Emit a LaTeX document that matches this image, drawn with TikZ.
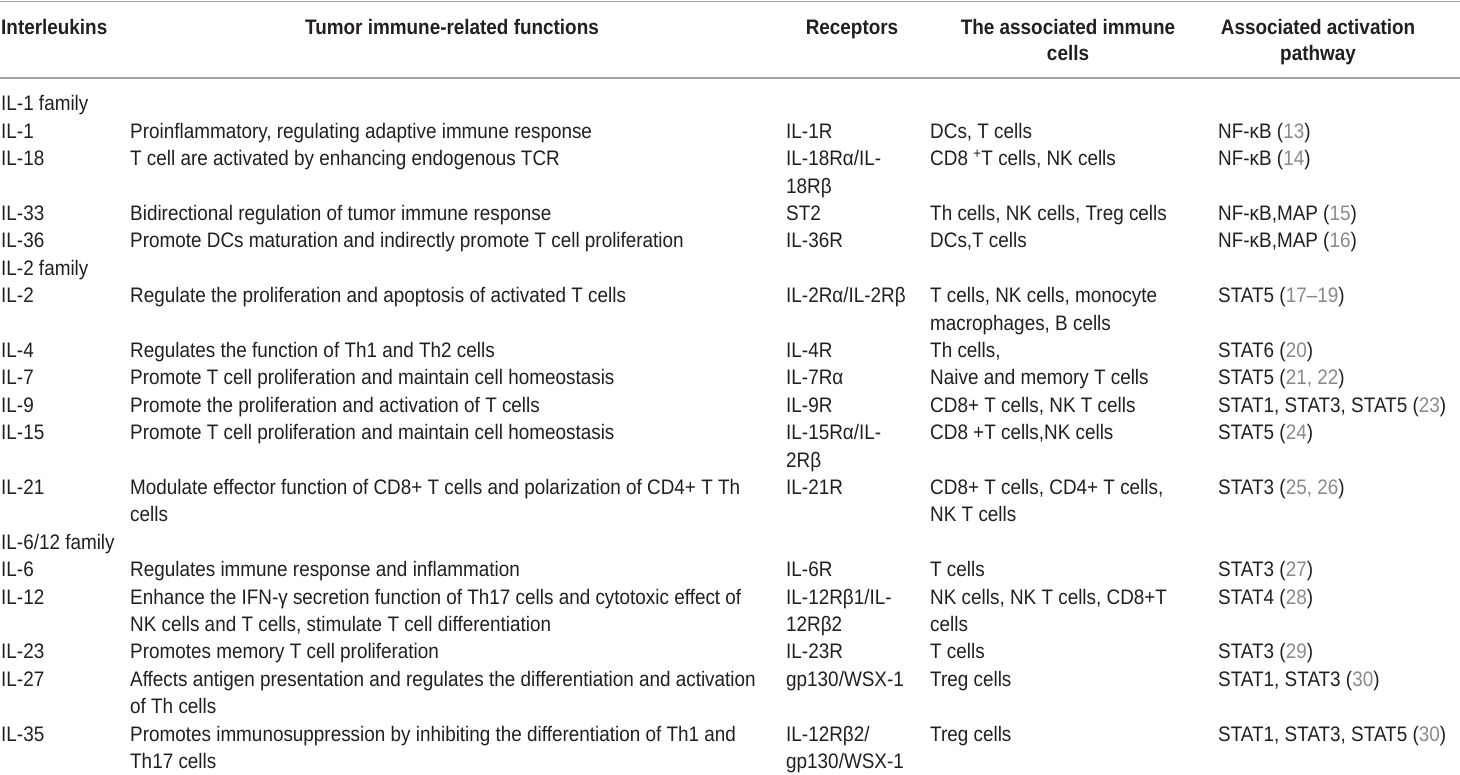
\documentclass[tikz,border=0pt]{standalone}
\usepackage{fontspec}
\setmainfont{Liberation Sans}[FakeStretch=0.9]
\definecolor{ink}{HTML}{231F20}
\definecolor{refgray}{HTML}{8A8A8A}
\definecolor{rulegray}{HTML}{A0A0A0}
\newcommand{\refno}[1]{(\textcolor{refgray}{#1})}
\newcommand{\twolines}[2]{\begin{tabular}[t]{@{}l@{}}#1\\#2\end{tabular}}
\newcommand{\headtwo}[2]{\begin{tabular}[t]{@{}c@{}}#1\\#2\end{tabular}}

\begin{document}
\begin{tikzpicture}[x=1bp,y=-27.4bp,
  cell/.style={anchor=base west,inner sep=0pt,text=ink,font=\fontsize{21bp}{27.4bp}\selectfont},
  head/.style={anchor=base,inner sep=0pt,text=ink,font=\fontsize{21bp}{26.5bp}\selectfont\bfseries},
  hrule/.style={draw=rulegray,line width=1.4bp}]
 \useasboundingbox (0,-4.05) rectangle (1460,24.23);
 % rules
 \draw[hrule] (0,-4.0) -- (1460,-4.0);
 \draw[hrule] (0,-1.2) -- (1460,-1.2);
 % header
 \node[head,anchor=base west] (hIL) at (1,-2.8) {Interleukins};
 \node[head] (hfun) at (452,-2.8) {Tumor immune-related functions};
 \node[head] (hrec) at (852,-2.8) {Receptors};
 \node[head] (hcell) at (1068,-2.8) {\headtwo{The associated immune}{cells}};
 \node[head] (hpath) at (1318,-2.8) {\headtwo{Associated activation}{pathway}};
 % IL-1 family
 \node[cell] (f1) at (1,0) {IL-1 family};
 \node[cell] (il1) at (1,1) {IL-1};
 \node[cell] (il1fun) at (130,1) {Proinflammatory, regulating adaptive immune response};
 \node[cell] (il1rec) at (786,1) {IL-1R};
 \node[cell] (il1cell) at (930,1) {DCs, T cells};
 \node[cell] (il1path) at (1218,1) {NF-κB \refno{13}};
 \node[cell] (il18) at (1,2) {IL-18};
 \node[cell] (il18fun) at (130,2) {T cell are activated by enhancing endogenous TCR};
 \node[cell] (il18rec) at (786,2) {\twolines{IL-18Rα/IL-}{18Rβ}};
 \node[cell] (il18cell) at (930,2) {CD8 \textsuperscript{+}T cells, NK cells};
 \node[cell] (il18path) at (1218,2) {NF-κB \refno{14}};
 \node[cell] (il33) at (1,4) {IL-33};
 \node[cell] (il33fun) at (130,4) {Bidirectional regulation of tumor immune response};
 \node[cell] (il33rec) at (786,4) {ST2};
 \node[cell] (il33cell) at (930,4) {Th cells, NK cells, Treg cells};
 \node[cell] (il33path) at (1218,4) {NF-κB,MAP \refno{15}};
 \node[cell] (il36) at (1,5) {IL-36};
 \node[cell] (il36fun) at (130,5) {Promote DCs maturation and indirectly promote T cell proliferation};
 \node[cell] (il36rec) at (786,5) {IL-36R};
 \node[cell] (il36cell) at (930,5) {DCs,T cells};
 \node[cell] (il36path) at (1218,5) {NF-κB,MAP \refno{16}};
 % IL-2 family
 \node[cell] (f2) at (1,6) {IL-2 family};
 \node[cell] (il2) at (1,7) {IL-2};
 \node[cell] (il2fun) at (130,7) {Regulate the proliferation and apoptosis of activated T cells};
 \node[cell] (il2rec) at (786,7) {IL-2Rα/IL-2Rβ};
 \node[cell] (il2cell) at (930,7) {\twolines{T cells, NK cells, monocyte}{macrophages, B cells}};
 \node[cell] (il2path) at (1218,7) {STAT5 \refno{17–19}};
 \node[cell] (il4) at (1,9) {IL-4};
 \node[cell] (il4fun) at (130,9) {Regulates the function of Th1 and Th2 cells};
 \node[cell] (il4rec) at (786,9) {IL-4R};
 \node[cell] (il4cell) at (930,9) {Th cells,};
 \node[cell] (il4path) at (1218,9) {STAT6 \refno{20}};
 \node[cell] (il7) at (1,10) {IL-7};
 \node[cell] (il7fun) at (130,10) {Promote T cell proliferation and maintain cell homeostasis};
 \node[cell] (il7rec) at (786,10) {IL-7Rα};
 \node[cell] (il7cell) at (930,10) {Naive and memory T cells};
 \node[cell] (il7path) at (1218,10) {STAT5 \refno{21, 22}};
 \node[cell] (il9) at (1,11) {IL-9};
 \node[cell] (il9fun) at (130,11) {Promote the proliferation and activation of T cells};
 \node[cell] (il9rec) at (786,11) {IL-9R};
 \node[cell] (il9cell) at (930,11) {CD8+ T cells, NK T cells};
 \node[cell] (il9path) at (1218,11) {STAT1, STAT3, STAT5 \refno{23}};
 \node[cell] (il15) at (1,12) {IL-15};
 \node[cell] (il15fun) at (130,12) {Promote T cell proliferation and maintain cell homeostasis};
 \node[cell] (il15rec) at (786,12) {\twolines{IL-15Rα/IL-}{2Rβ}};
 \node[cell] (il15cell) at (930,12) {CD8 +T cells,NK cells};
 \node[cell] (il15path) at (1218,12) {STAT5 \refno{24}};
 \node[cell] (il21) at (1,14) {IL-21};
 \node[cell] (il21fun) at (130,14) {\twolines{Modulate effector function of CD8+ T cells and polarization of CD4+ T Th}{cells}};
 \node[cell] (il21rec) at (786,14) {IL-21R};
 \node[cell] (il21cell) at (930,14) {\twolines{CD8+ T cells, CD4+ T cells,}{NK T cells}};
 \node[cell] (il21path) at (1218,14) {STAT3 \refno{25, 26}};
 % IL-6/12 family
 \node[cell] (f3) at (1,16) {IL-6/12 family};
 \node[cell] (il6) at (1,17) {IL-6};
 \node[cell] (il6fun) at (130,17) {Regulates immune response and inflammation};
 \node[cell] (il6rec) at (786,17) {IL-6R};
 \node[cell] (il6cell) at (930,17) {T cells};
 \node[cell] (il6path) at (1218,17) {STAT3 \refno{27}};
 \node[cell] (il12) at (1,18) {IL-12};
 \node[cell] (il12fun) at (130,18) {\twolines{Enhance the IFN-γ secretion function of Th17 cells and cytotoxic effect of}{NK cells and T cells, stimulate T cell differentiation}};
 \node[cell] (il12rec) at (786,18) {\twolines{IL-12Rβ1/IL-}{12Rβ2}};
 \node[cell] (il12cell) at (930,18) {\twolines{NK cells, NK T cells, CD8+T}{cells}};
 \node[cell] (il12path) at (1218,18) {STAT4 \refno{28}};
 \node[cell] (il23) at (1,20) {IL-23};
 \node[cell] (il23fun) at (130,20) {Promotes memory T cell proliferation};
 \node[cell] (il23rec) at (786,20) {IL-23R};
 \node[cell] (il23cell) at (930,20) {T cells};
 \node[cell] (il23path) at (1218,20) {STAT3 \refno{29}};
 \node[cell] (il27) at (1,21) {IL-27};
 \node[cell] (il27fun) at (130,21) {\twolines{Affects antigen presentation and regulates the differentiation and activation}{of Th cells}};
 \node[cell] (il27rec) at (786,21) {gp130/WSX-1};
 \node[cell] (il27cell) at (930,21) {Treg cells};
 \node[cell] (il27path) at (1218,21) {STAT1, STAT3 \refno{30}};
 \node[cell] (il35) at (1,23) {IL-35};
 \node[cell] (il35fun) at (130,23) {\twolines{Promotes immunosuppression by inhibiting the differentiation of Th1 and}{Th17 cells}};
 \node[cell] (il35rec) at (786,23) {\twolines{IL-12Rβ2/}{gp130/WSX-1}};
 \node[cell] (il35cell) at (930,23) {Treg cells};
 \node[cell] (il35path) at (1218,23) {STAT1, STAT3, STAT5 \refno{30}};
\end{tikzpicture}
\end{document}
